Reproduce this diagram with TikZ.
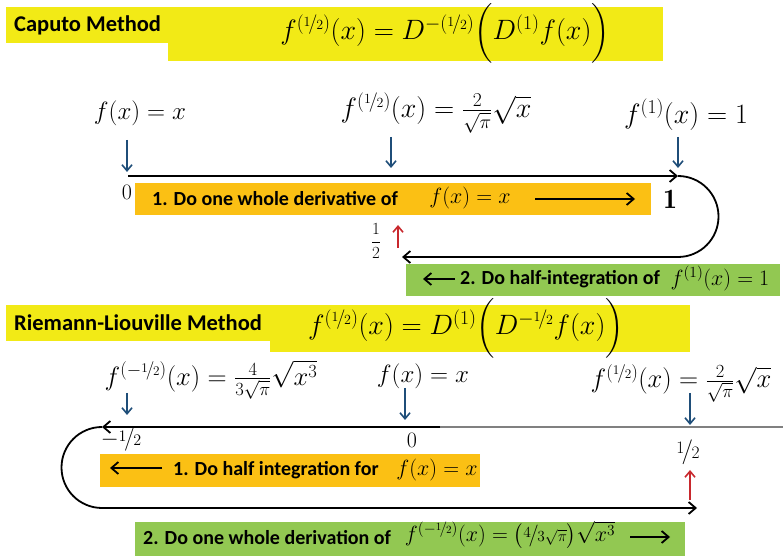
\documentclass[tikz,border=0pt]{standalone}
\usepackage{fix-cm}
\usepackage{amsmath}
\usepackage{nicefrac}
\usepackage{fontspec}
\newfontfamily\calib{Carlito}
\usetikzlibrary{positioning,arrows.meta}

\definecolor{boxyellow}{RGB}{242,234,22}
\definecolor{boxorange}{RGB}{251,192,20}
\definecolor{boxgreen}{RGB}{146,200,82}
\definecolor{arrblue}{RGB}{31,78,121}
\definecolor{arrred}{RGB}{200,40,45}

\tikzset{
  title/.style={font=\calib\bfseries\fontsize{22.5}{26}\selectfont, anchor=west, inner sep=0pt},
  stepnote/.style={font=\calib\bfseries\fontsize{20}{24}\selectfont, anchor=west, inner sep=0pt},
  bigmath/.style={font=\fontsize{28}{32}\selectfont, inner sep=0pt},
  midmath/.style={font=\fontsize{25}{30}\selectfont, inner sep=0pt},
  smallmath/.style={font=\fontsize{22}{26}\selectfont, inner sep=0pt},
  pointer/.style={-{Straight Barb[length=6pt,width=10pt]}, line width=1.6pt, arrblue},
  uppointer/.style={-{Straight Barb[length=6pt,width=10pt]}, line width=1.6pt, arrred},
  axis/.style={-{Straight Barb[length=7pt,width=12pt]}, line width=1.8pt},
}

\begin{document}
\begin{tikzpicture}[x=1pt,y=1pt]
\useasboundingbox (0,0) rectangle (783,556);

% Caputo
\fill[boxyellow] (6,513) rectangle (168,549);
\fill[boxyellow] (168,495) rectangle (663,549);
\node[title] (cap) at (14,531) {Caputo Method};
\node[bigmath] (capeq) at (445,523) {$f^{(\nicefrac{1}{2})}(x)=D^{-(\nicefrac{1}{2})}\Bigl(D^{(1)}f(x)\Bigr)$};

\node[midmath] (fa) at (140,443) {$f(x)=x$};
\node[bigmath] (fb) at (436,443) {$f^{(\nicefrac{1}{2})}(x)=\tfrac{2}{\sqrt{\pi}}\sqrt{x}$};
\node[bigmath] (fc) at (686,441) {$f^{(1)}(x)=1$};

\coordinate (pa) at (127,416); \coordinate (qa) at (127,384);
\coordinate (pb) at (391,419); \coordinate (qb) at (391,388);
\coordinate (pc) at (678,419); \coordinate (qc) at (678,388);
\draw[pointer] (pa) -- (qa);
\draw[pointer] (pb) -- (qb);
\draw[pointer] (pc) -- (qc);

\coordinate (a0) at (128,380); \coordinate (a1) at (678,380);
\coordinate (bh) at (402,299);
\draw[axis] (a0) -- (a1);
\draw[axis] (a1) arc[start angle=90, end angle=-90, radius=40.5] -- (bh);

\node[font=\fontsize{22}{26}\selectfont] (zero1) at (127,364) {$0$};
\node[font=\fontsize{28}{32}\selectfont] (one1) at (670,357) {$\mathbf{1}$};

\fill[boxorange] (135,341) rectangle (651,373);
\node[stepnote] (s1) at (152,357) {1. Do one whole derivative of};
\node[smallmath] (s1f) at (470,358) {$f(x)=x$};
\coordinate (s1a) at (535,357); \coordinate (s1b) at (635,357);
\draw[axis] (s1a) -- (s1b);

\node[font=\fontsize{17}{20}\selectfont] (half1) at (376,315) {$\dfrac{1}{2}$};
\coordinate (ra) at (398,308); \coordinate (rb) at (398,331);
\draw[uppointer] (ra) -- (rb);

\fill[boxgreen] (406,260) rectangle (780,292);
\coordinate (s2a) at (455,277); \coordinate (s2b) at (423,277);
\draw[axis] (s2a) -- (s2b);
\node[stepnote] (s2) at (460,277) {2. Do half-integration of};
\node[smallmath] (s2f) at (720,278) {$f^{(1)}(x)=1$};

% Riemann-Liouville
\fill[boxyellow] (6,215) rectangle (270,251);
\fill[boxyellow] (270,204) rectangle (690,251);
\node[title] (rl) at (14,233) {Riemann-Liouville Method};
\node[bigmath] (rleq) at (466,228) {$f^{(\nicefrac{1}{2})}(x)=D^{(1)}\Bigl(D^{-\nicefrac{1}{2}}f(x)\Bigr)$};

\node[font=\fontsize{26.5}{30}\selectfont, inner sep=0pt] (ga) at (211,176) {$f^{(-\nicefrac{1}{2})}(x)=\tfrac{4}{3\sqrt{\pi}}\sqrt{x^3}$};
\node[midmath] (gb) at (423,180) {$f(x)=x$};
\node[font=\fontsize{26.5}{30}\selectfont, inner sep=0pt] (gc) at (681,173) {$f^{(\nicefrac{1}{2})}(x)=\tfrac{2}{\sqrt{\pi}}\sqrt{x}$};

\coordinate (ua) at (127,163); \coordinate (va) at (127,141);
\coordinate (ub) at (405,168); \coordinate (vb) at (405,136);
\coordinate (uc) at (690,163); \coordinate (vc) at (690,131);
\draw[pointer] (ua) -- (va);
\draw[pointer] (ub) -- (vb);
\draw[pointer] (uc) -- (vc);

\coordinate (c0) at (440,129); \coordinate (cr) at (783,129);
\coordinate (c1) at (102,129); \coordinate (d1) at (697,48);
\draw[gray, line width=1.2pt] (c0) -- (cr);
\draw[axis] (c0) -- (c1);
\draw[axis] (c1) arc[start angle=90, end angle=270, radius=40.5] -- (d1);

\node[font=\fontsize{23}{26}\selectfont] (mhalf) at (121,116) {$-\nicefrac{1}{2}$};
\node[font=\fontsize{22}{26}\selectfont] (zero2) at (412,116) {$0$};
\node[font=\fontsize{25}{30}\selectfont] (half2) at (688,104) {$\nicefrac{1}{2}$};

\fill[boxorange] (100,69) rectangle (480,102);
\coordinate (t1a) at (162,88); \coordinate (t1b) at (110,88);
\draw[axis] (t1a) -- (t1b);
\node[stepnote] (t1) at (173,86) {1. Do half integration for};
\node[smallmath] (t1f) at (437,86) {$f(x)=x$};

\coordinate (rc) at (690,56); \coordinate (rd) at (690,86);
\draw[uppointer] (rc) -- (rd);

\fill[boxgreen] (135,0) rectangle (685,34);
\node[stepnote] (t2) at (143,18) {2. Do one whole derivation of};
\node[smallmath] (t2f) at (510,21) {$f^{(-\nicefrac{1}{2})}(x)=\bigl(\nicefrac{4}{3\sqrt{\pi}}\bigr)\sqrt{x^3}$};
\coordinate (t2a) at (630,19); \coordinate (t2b) at (670,19);
\draw[axis] (t2a) -- (t2b);
\end{tikzpicture}
\end{document}
